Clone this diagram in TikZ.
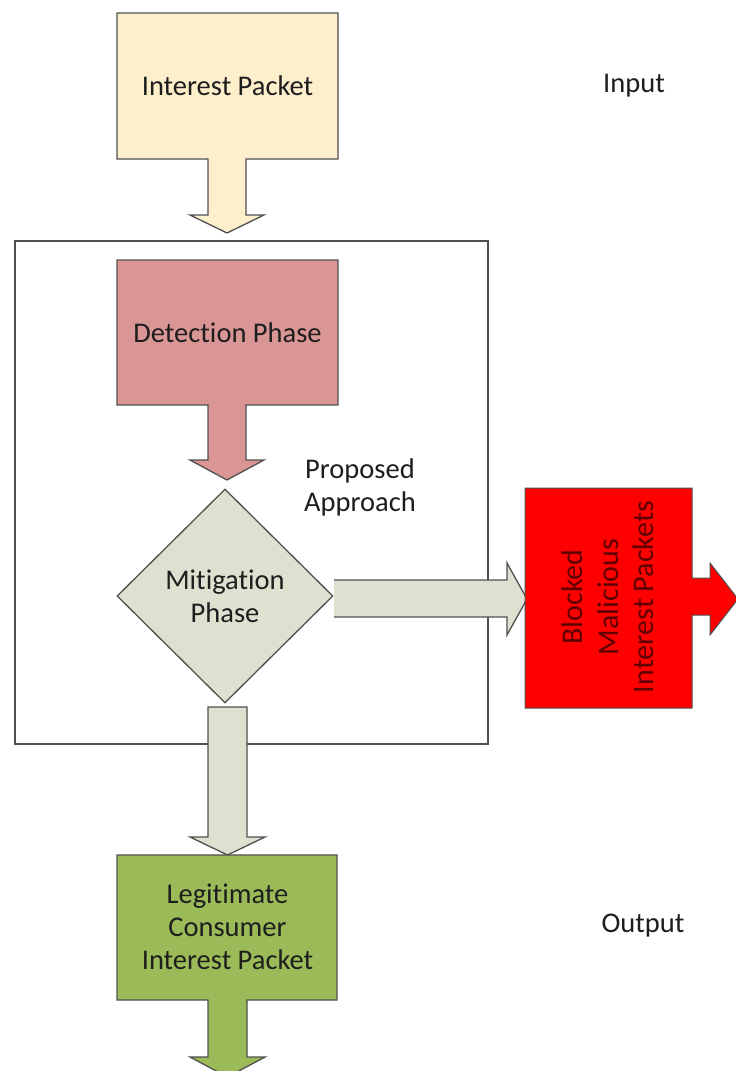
\documentclass[tikz,border=0pt]{standalone}
\usepackage{fontspec}
\setmainfont{Carlito}[Ligatures=NoCommon]
\usetikzlibrary{shapes.geometric,calc}

\definecolor{inputfill}{RGB}{253,239,204}
\definecolor{detectfill}{RGB}{217,150,148}
\definecolor{mitigfill}{RGB}{221,226,208}
\definecolor{blockfill}{RGB}{255,0,0}
\definecolor{legitfill}{RGB}{155,187,89}
\definecolor{edgegray}{RGB}{80,80,80}
\definecolor{textdark}{RGB}{30,30,30}
\definecolor{textred}{RGB}{95,0,0}

\tikzset{
  blockshape/.style={draw=edgegray, line width=1.3pt, line join=miter},
  txt/.style={text=textdark, font=\fontsize{28.5}{33}\selectfont, align=center, inner sep=0pt},
}

\begin{document}
\begin{tikzpicture}[x=1pt, y=-1pt]
\useasboundingbox (0,0) rectangle (736,1071);
\clip (0,0) rectangle (736,1071);
\fill[white] (0,0) rectangle (736,1071);

% frame around the proposed approach
\node[draw=edgegray, line width=1.1pt, minimum width=473pt, minimum height=503pt, inner sep=0pt] (approach) at (251.5,492.5) {};

% input callout
\filldraw[blockshape, fill=inputfill]
  (117,13) -- (338,13) -- (338,159) -- (246,159) -- (246,215) -- (264,215)
  -- (227,233) -- (190,215) -- (208,215) -- (208,159) -- (117,159) -- cycle;
\node[txt] (input) at (227.5,86) {Interest Packet};

% detection callout
\filldraw[blockshape, fill=detectfill]
  (117,260) -- (338,260) -- (338,405) -- (246,405) -- (246,460) -- (264,460)
  -- (227,480) -- (190,460) -- (208,460) -- (208,405) -- (117,405) -- cycle;
\node[txt] (detect) at (227.5,333) {Detection Phase};

% mitigation decision
\node[blockshape, diamond, fill=mitigfill, minimum width=216pt, minimum height=214pt, inner sep=0pt] (mitig) at (225,596) {};
\node[txt] (mitigtext) at (mitig.center) {Mitigation\\Phase};

% arrow towards blocked packets
\fill[mitigfill] (334,580) -- (507,580) -- (507,563) -- (527,599) -- (507,635) -- (507,617) -- (334,617) -- cycle;
\draw[blockshape] (334,580) -- (507,580) -- (507,563) -- (527,599) -- (507,635) -- (507,617) -- (334,617);

% arrow towards legitimate packets
\filldraw[blockshape, fill=mitigfill]
  (208,707) -- (247,707) -- (247,837) -- (265,837) -- (227.5,855) -- (190,837) -- (208,837) -- cycle;

% blocked malicious packets callout
\filldraw[draw=edgegray, line width=1pt, fill=blockfill]
  (525,488) -- (692,488) -- (692,578) -- (710,578) -- (710,563) -- (738,599)
  -- (710,635) -- (710,615) -- (692,615) -- (692,708) -- (525,708) -- cycle;
\node[txt, text=textred, font=\fontsize{30}{35.5}\selectfont, rotate=90] (blocked) at (608,597) {Blocked\\Malicious\\Interest Packets};

% legitimate consumer callout
\filldraw[blockshape, fill=legitfill]
  (117,855) -- (337,855) -- (337,1000) -- (247,1000) -- (247,1057) -- (265,1057)
  -- (227.5,1077) -- (190,1057) -- (208,1057) -- (208,1000) -- (117,1000) -- cycle;
\node[txt] (legit) at (227.5,927) {Legitimate\\Consumer\\Interest Packet};

% side labels
\node[txt] (inlabel) at (634,86) {Input};
\node[txt] (outlabel) at (643,926) {Output};
\node[txt] (proposed) at (360,487) {Proposed\\Approach};
\end{tikzpicture}
\end{document}
